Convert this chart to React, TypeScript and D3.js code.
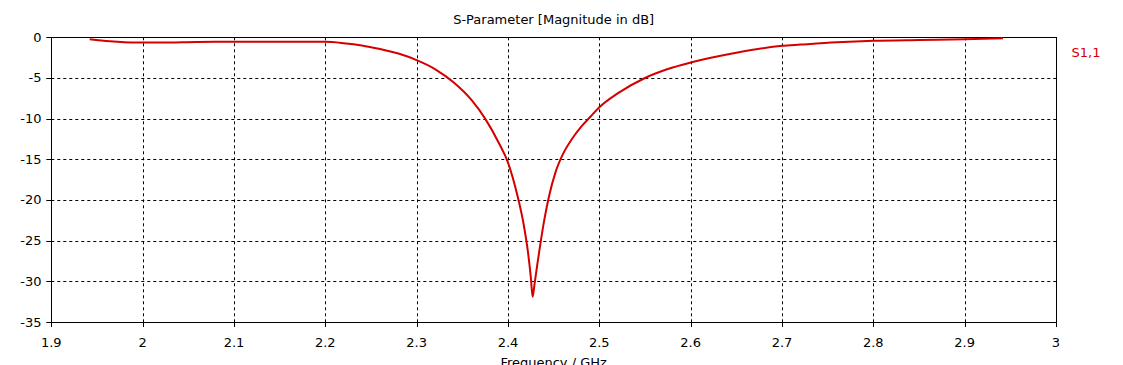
import React from "react";
import * as d3 from "d3";

const freqGHz = [1.942, 1.964, 1.993, 2.02, 2.059, 2.1, 2.15, 2.2, 2.22, 2.24, 2.26, 2.28, 2.3, 2.32, 2.34, 2.36, 2.375, 2.39, 2.4, 2.41, 2.417, 2.422, 2.425, 2.427, 2.429, 2.432, 2.436, 2.44, 2.445, 2.452, 2.46, 2.47, 2.48, 2.49, 2.5, 2.52, 2.55, 2.575, 2.6, 2.65, 2.7, 2.72, 2.76, 2.8, 2.85, 2.9, 2.942];
const s11dB = [-0.25, -0.5, -0.65, -0.65, -0.58, -0.55, -0.55, -0.56, -0.72, -1.0, -1.45, -2.0, -2.8, -3.9, -5.5, -7.7, -10.0, -13.0, -15.4, -19.3, -22.9, -26.5, -29.5, -31.9, -30.4, -28.0, -25.0, -22.3, -19.5, -16.6, -14.4, -12.5, -11.0, -9.8, -8.6, -6.9, -5.0, -3.9, -3.1, -1.9, -1.05, -0.9, -0.62, -0.43, -0.33, -0.25, -0.12];

const xTicks = [1.9, 2.0, 2.1, 2.2, 2.3, 2.4, 2.5, 2.6, 2.7, 2.8, 2.9, 3.0];
const yTicks = [0, -5, -10, -15, -20, -25, -30, -35];
const title = "S-Parameter [Magnitude in dB]";
const xLabel = "Frequency / GHz";
const seriesName = "S1,1";

export default function App() {
  const W = 1123, H = 365;
  const left = 51.3, right = 1056, top = 37.3, bottom = 322;
  const x = d3.scaleLinear().domain([1.9, 3.0]).range([left, right]);
  const y = d3.scaleLinear().domain([0, -35]).range([top, bottom]);
  const pts: [number, number][] = freqGHz.map((f, i) => [f, s11dB[i]]);
  const line = d3.line<[number, number]>().x(d => x(d[0])).y(d => y(d[1])).curve(d3.curveMonotoneX);
  const font = "DejaVu Sans, Verdana, sans-serif";
  const fmtX = (v: number) => (Math.abs(v - Math.round(v)) < 1e-9 ? String(Math.round(v)) : v.toFixed(1));
  return (
    <svg width={W} height={H} style={{ position: "absolute", left: 0, top: 0, background: "#fff" }} fontFamily={font}>
      <rect x={0} y={0} width={W} height={H} fill="#fff" />
      <text x={(left + right) / 2} y={24} textAnchor="middle" fontSize={13} fill="#000">{title}</text>
      {xTicks.slice(1, -1).map(t => (
        <line key={"gx" + t} x1={Math.round(x(t)) + 0.5} x2={Math.round(x(t)) + 0.5} y1={top} y2={bottom} stroke="#000" strokeWidth={1} strokeDasharray="3,3" />
      ))}
      {yTicks.slice(1, -1).map(t => (
        <line key={"gy" + t} y1={Math.round(y(t)) + 0.5} y2={Math.round(y(t)) + 0.5} x1={left} x2={right} stroke="#000" strokeWidth={1} strokeDasharray="3,3" />
      ))}
      <rect x={Math.round(left) + 0.5} y={Math.round(top) + 0.5} width={Math.round(right) - Math.round(left)} height={Math.round(bottom) - Math.round(top)} fill="none" stroke="#000" strokeWidth={1} />
      {xTicks.map(t => (
        <g key={"xt" + t}>
          <line x1={Math.round(x(t)) + 0.5} x2={Math.round(x(t)) + 0.5} y1={bottom} y2={bottom + 5} stroke="#000" />
          <text x={x(t)} y={347} textAnchor="middle" fontSize={13} fill="#000">{fmtX(t)}</text>
        </g>
      ))}
      {yTicks.map(t => (
        <g key={"yt" + t}>
          <line x1={left - 5} x2={left} y1={Math.round(y(t)) + 0.5} y2={Math.round(y(t)) + 0.5} stroke="#000" />
          <text x={41.5} y={y(t) + 4.5} textAnchor="end" fontSize={13} fill="#000">{String(t)}</text>
        </g>
      ))}
      <path d={line(pts) || ""} fill="none" stroke="#d40000" strokeWidth={2} />
      <text x={1071.5} y={57} fontSize={13} fill="#d40000">{seriesName}</text>
      <text x={(left + right) / 2} y={366.5} textAnchor="middle" fontSize={13} fill="#000">{xLabel}</text>
    </svg>
  );
}
